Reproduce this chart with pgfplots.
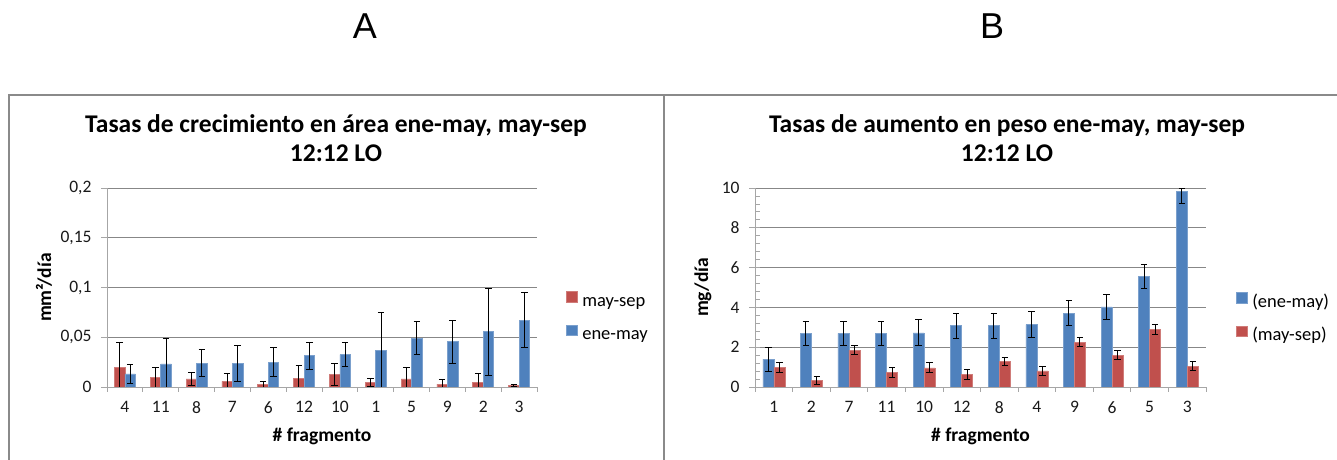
\documentclass[border=0pt]{standalone}
\usepackage{fontspec}
\setmainfont{Carlito}
\newfontfamily\panelfont{Liberation Sans}
\usepackage{pgfplots}
\pgfplotsset{compat=1.18}
\usepackage{pgfplotstable}

\definecolor{xlblue}{HTML}{4F81BD}
\definecolor{xlred}{HTML}{C0504D}
\definecolor{gridgray}{HTML}{878787}
\definecolor{axisgray}{HTML}{A6A6A6}
\definecolor{framegray}{HTML}{8A8A8A}

% Growth in area (mm^2/dia), fragments ordered 4 11 8 7 6 12 10 1 5 9 2 3
\pgfplotstableread{
idx val err
0 0.0198 0.0254
1 0.0097 0.0098
2 0.0081 0.0064
3 0.0057 0.0080
4 0.0024 0.0030
5 0.0087 0.0125
6 0.0124 0.0111
7 0.0047 0.0037
8 0.0081 0.0114
9 0.0030 0.0047
10 0.0047 0.0084
11 0.0017 0.0013
}\areaMaySep
\pgfplotstableread{
idx val err
0 0.0131 0.0098
1 0.0232 0.0255
2 0.0239 0.0138
3 0.0239 0.0181
4 0.0249 0.0144
5 0.0316 0.0136
6 0.0326 0.0120
7 0.0366 0.0384
8 0.0491 0.0168
9 0.0457 0.0216
10 0.0555 0.0437
11 0.0672 0.0274
}\areaEneMay

% Weight gain (mg/dia), fragments ordered 1 2 7 11 10 12 8 4 9 6 5 3
\pgfplotstableread{
idx val ep em
0 1.40 0.60 0.60
1 2.69 0.60 0.60
2 2.69 0.60 0.60
3 2.69 0.60 0.60
4 2.72 0.65 0.65
5 3.08 0.62 0.62
6 3.08 0.62 0.62
7 3.14 0.64 0.64
8 3.71 0.62 0.62
9 4.02 0.65 0.65
10 5.56 0.59 0.59
11 9.82 0.15 0.59
}\pesoEneMay
\pgfplotstableread{
idx val err
0 0.98 0.23
1 0.34 0.20
2 1.85 0.23
3 0.72 0.25
4 0.96 0.25
5 0.62 0.25
6 1.29 0.20
7 0.81 0.22
8 2.25 0.24
9 1.60 0.23
10 2.89 0.24
11 1.04 0.22
}\pesoMaySep

\pgfplotsset{
  excelbars/.style={
    scale only axis, height=199bp,
    xmin=-0.5, xmax=11.5, ymin=0,
    ybar=0pt,
    xtick={0,...,11},
    minor xtick={-0.5,0.5,...,11.5},
    tick align=outside,
    major tick length=6bp, minor tick length=5bp,
    major x tick style={draw=none},
    minor x tick style={draw=axisgray, line width=0.8bp},
    major y tick style={draw=axisgray, line width=0.8bp},
    axis x line*=bottom, axis y line*=left,
    axis line style={-, draw=axisgray, line width=0.8bp},
    ymajorgrids, grid style={draw=gridgray, line width=0.8bp},
    tick label style={font=\fontsize{17.5bp}{20bp}\selectfont, text=black!90},
    yticklabel style={xshift=-6bp},
    xticklabel style={yshift=-5bp},
    /pgf/number format/assume math mode=true,
    label style={font=\fontsize{19.5bp}{23bp}\selectfont\bfseries},
    xlabel style={at={(axis description cs:0.5,-0.246)}, anchor=center},
    title style={font=\fontsize{25.5bp}{29bp}\selectfont\bfseries, align=center, anchor=center},
    legend cell align=left,
    legend image code/.code={\fill[##1] (0bp,-0.5bp) rectangle (11bp,10bp);},
    legend style={draw=none, fill=none, anchor=west, inner sep=0pt,
      font=\fontsize{18.5bp}{21bp}\selectfont,
      nodes={inner sep=0pt, text height=13bp, text depth=4bp},
      row sep=14.6bp,
      /tikz/every odd column/.append style={column sep=4.5bp}},
  },
  errstyle/.style={error bars/.cd, y dir=both, y explicit,
    error bar style={black, line width=1bp},
    error mark options={rotate=90, black, line width=1bp, mark size=3.2bp}},
}

\begin{document}
\begin{tikzpicture}[x=1bp, y=1bp]
  \coordinate (originA) at (107,73);
  \coordinate (originB) at (755,73);

  % panel frames
  \draw[framegray, line width=1.6bp] (9,0) -- (9,365) -- (1337,365);
  \draw[framegray, line width=1.6bp] (664,0) -- (664,365);

  % panel letters
  \node[font=\panelfont\fontsize{36bp}{40bp}\selectfont] at (365,434) {A};
  \node[font=\panelfont\fontsize{36bp}{40bp}\selectfont] at (992,434) {B};

  % A: growth in area
  \begin{axis}[excelbars, at={(originA)}, anchor=south west,
      width=430bp, ymax=0.2, bar width=10.5bp,
      ytick={0,0.05,0.1,0.15,0.2},
      yticklabels={0,{0,05},{0,1},{0,15},{0,2}},
      xticklabels={4,11,8,7,6,12,10,1,5,9,2,3},
      title={Tasas de crecimiento en área ene-may, may-sep\\12:12 LO},
      title style={at={(axis description cs:0.5326,1.219)}},
      xlabel={\# fragmento},
      ylabel={mm²/día},
      ylabel style={at={(axis description cs:-0.1465,0.5)}, anchor=center},
      legend style={at={(axis description cs:1.0674,0.349)}},
    ]
    \addplot[fill=xlred, draw=xlred!75!white, line width=0.6bp, errstyle]
      table[x=idx, y=val, y error=err] {\areaMaySep};
    \addplot[fill=xlblue, draw=xlblue!75!white, line width=0.6bp, errstyle]
      table[x=idx, y=val, y error=err] {\areaEneMay};
    \legend{may-sep, ene-may}
  \end{axis}

  % B: weight gain
  \begin{axis}[excelbars, at={(originB)}, anchor=south west,
      width=451bp, ymax=10, bar width=11bp,
      ytick={0,2,...,10},
      minor ytick={0.4,0.8,...,9.6},
      minor y tick style={draw=axisgray, line width=0.8bp, xshift=5bp},
      xticklabels={1,2,7,11,10,12,8,4,9,6,5,3},
      title={Tasas de aumento en peso ene-may, may-sep\\12:12 LO},
      title style={at={(axis description cs:0.5588,1.219)}},
      xlabel={\# fragmento},
      ylabel={mg/día},
      ylabel style={at={(axis description cs:-0.1153,0.5)}, anchor=center},
      legend style={at={(axis description cs:1.0665,0.345)}},
    ]
    \addplot[fill=xlblue, draw=xlblue!75!white, line width=0.6bp, errstyle]
      table[x=idx, y=val, y error plus=ep, y error minus=em] {\pesoEneMay};
    \addplot[fill=xlred, draw=xlred!75!white, line width=0.6bp, errstyle]
      table[x=idx, y=val, y error=err] {\pesoMaySep};
    \legend{(ene-may), (may-sep)}
  \end{axis}

  \pgfresetboundingbox
  \path[use as bounding box] (0,0) rectangle (1337,460);
\end{tikzpicture}
\end{document}
